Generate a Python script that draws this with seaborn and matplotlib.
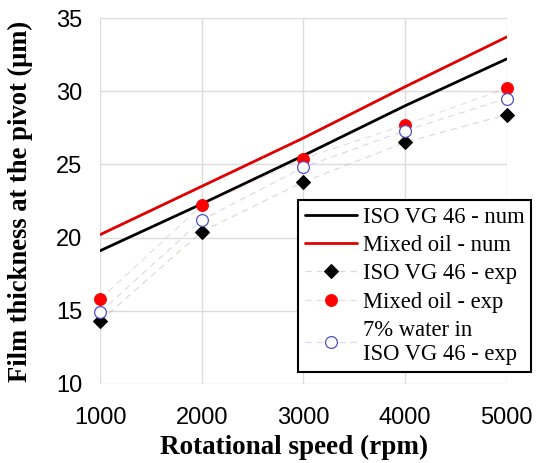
import numpy as np
import pandas as pd
import seaborn as sns
import matplotlib.pyplot as plt
from matplotlib.ticker import MultipleLocator

speed = [1000, 2000, 3000, 4000, 5000]

# numerical results
iso_num = [19.1, 22.3, 25.6, 29.0, 32.2]
mixed_num = [20.2, 23.5, 26.8, 30.3, 33.7]

# experimental results
iso_exp = [14.3, 20.4, 23.8, 26.5, 28.4]
mixed_exp = [15.8, 22.2, 25.4, 27.7, 30.2]
water_exp = [14.9, 21.2, 24.8, 27.3, 29.5]

sns.set_style("white", {"text.color": "black", "xtick.color": "black",
                        "ytick.color": "black", "axes.labelcolor": "black"})
plt.rcParams["font.family"] = ["Liberation Sans", "DejaVu Sans"]

fig = plt.figure(figsize=(5.36, 4.63), dpi=100)
ax = fig.add_axes([0.187, 0.171, 0.758, 0.79])

df_num = pd.DataFrame({"speed": speed, "iso": iso_num, "mixed": mixed_num})
df_exp = pd.DataFrame({"speed": speed, "iso": iso_exp, "mixed": mixed_exp, "water": water_exp})

sns.lineplot(data=df_num, x="speed", y="iso", ax=ax, color="black", lw=2,
             label="ISO VG 46 - num")
sns.lineplot(data=df_num, x="speed", y="mixed", ax=ax, color="#e00000", lw=2,
             label="Mixed oil - num")

exp_styles = [
    ("iso", "ISO VG 46 - exp", dict(marker="D", ms=7, mfc="black", mec="black"), (0.6, 0.6, 0.6, 0.35)),
    ("mixed", "Mixed oil - exp", dict(marker="o", ms=8.5, mfc="red", mec="red"), (0.85, 0.6, 0.6, 0.35)),
    ("water", "7% water in\nISO VG 46 - exp", dict(marker="o", ms=8.5, mfc="white", mec="#5050c8", mew=0.9), (0.6, 0.6, 0.85, 0.35)),
]
for col, lab, mk, lc in exp_styles:
    sns.lineplot(data=df_exp, x="speed", y=col, ax=ax, color=lc, lw=0.9,
                 dashes=False, linestyle=(0, (5, 4)), label=lab, **mk,
                 clip_on=False, zorder=5)

ax.set_xlim(1000, 5000)
ax.set_ylim(10, 35)
ax.xaxis.set_major_locator(MultipleLocator(1000))
ax.xaxis.set_minor_locator(MultipleLocator(500))
ax.yaxis.set_major_locator(MultipleLocator(5))
ax.yaxis.set_minor_locator(MultipleLocator(2.5))
ax.grid(True, which="major", color="#dcdcdc", lw=1)
for s in ax.spines.values():
    s.set_visible(False)
ax.tick_params(which="both", direction="out", color="#dcdcdc", labelcolor="black",
               width=1, labelsize=17)
ax.tick_params(which="major", length=9)
ax.tick_params(which="minor", length=4.5)
ax.tick_params(axis="x", which="major", pad=8)
ax.tick_params(axis="y", which="major", pad=4)

ax.set_xlabel("Rotational speed (rpm)", fontsize=19.5, fontweight="bold",
              family="Liberation Serif", color="black")
ax.set_ylabel("Film thickness at the pivot (μm)", fontsize=19.2, fontweight="bold",
              family="Liberation Serif", color="black")
ax.xaxis.set_label_coords(0.478, -0.14)
ax.yaxis.set_label_coords(-0.165, 0.5)

leg = ax.legend(loc="upper left", bbox_to_anchor=(0.556, 0.568),
                bbox_transform=fig.transFigure, frameon=True, fancybox=False,
                prop={"family": "Liberation Serif", "size": 16.3},
                handlelength=2.3, handletextpad=0.25, labelspacing=0.32,
                borderpad=0.3, borderaxespad=0)
leg.get_frame().set_edgecolor("black")
leg.get_frame().set_linewidth(1.5)
leg.get_frame().set_alpha(1)
for t in leg.get_texts():
    t.set_color("black")

plt.savefig("out.png", dpi=100)
